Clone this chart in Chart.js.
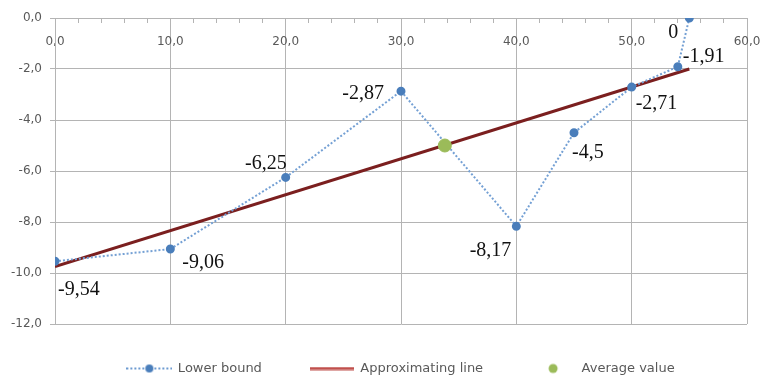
<!DOCTYPE html>
<html>
<head>
<meta charset="utf-8">
<script src="https://cdn.jsdelivr.net/npm/chart.js@4/dist/chart.umd.min.js"></script>
<style>
  html, body { margin: 0; padding: 0; background: #fff; }
  #wrap { width: 765px; height: 377px; }
</style>
</head>
<body>
<div id="wrap"><canvas id="chart"></canvas></div>
<script>
// Données
const LOWER_X = [0, 10, 20, 30, 40, 45, 50, 54, 55];
const LOWER_Y = [-9.54, -9.06, -6.25, -2.87, -8.17, -4.5, -2.71, -1.91, 0];
const LOWER_LABELS = ['-9,54', '-9,06', '-6,25', '-2,87', '-8,17', '-4,5', '-2,71', '-1,91', '0'];
const APPROX_X = [0, 55];
const APPROX_Y = [-9.75, -2.0];
const AVG_X = [33.8];
const AVG_Y = [-5.0];
const SERIES_NAMES = ['Lower bound', 'Approximating line', 'Average value'];
const X_MIN = 0, X_MAX = 60, X_STEP = 2, X_MAJOR = 10;
const Y_MIN = -12, Y_MAX = 0, Y_STEP = 2;

// placement des étiquettes (dx, dy, alignement) autour de chaque point
const LABEL_POS = [
  [3, 28, 'left'], [12, 14, 'left'], [1, -14, 'right'], [-17, 3, 'right'],
  [-5, 24, 'right'], [-2, 20, 'left'], [4, 17, 'left'], [5, -10, 'left'], [-11, 15, 'right'],
];

const GRID = '#b4b4b4';
const TICK_COLOR = '#595959';
const TICK_FONT = { family: 'DejaVu Sans', size: 12 };

const fmt = v => Number(v).toFixed(1).replace('.', ',');
const pts = (xs, ys) => xs.map((x, i) => ({ x, y: ys[i] }));

function legendIcon(kind) {
  const c = document.createElement('canvas');
  const g = c.getContext('2d');
  if (kind === 'lower') {
    c.width = 46; c.height = 10;
    g.strokeStyle = '#6d9bd1'; g.lineWidth = 2; g.setLineDash([2, 2]);
    g.beginPath(); g.moveTo(0, 5); g.lineTo(46, 5); g.stroke();
    g.fillStyle = '#4a7ebb';
    g.beginPath(); g.arc(23, 5, 4, 0, Math.PI * 2); g.fill();
  } else if (kind === 'approx') {
    c.width = 44; c.height = 4;
    g.strokeStyle = '#c0504d'; g.lineWidth = 3;
    g.beginPath(); g.moveTo(0, 2); g.lineTo(44, 2); g.stroke();
  } else {
    c.width = 12; c.height = 12;
    g.fillStyle = '#9bbb59';
    g.beginPath(); g.arc(6, 6, 4.5, 0, Math.PI * 2); g.fill();
  }
  return c;
}
const ICONS = [legendIcon('lower'), legendIcon('approx'), legendIcon('avg')];

const pointLabels = {
  id: 'pointLabels',
  afterDatasetsDraw(chart) {
    const meta = chart.getDatasetMeta(0);
    const ctx = chart.ctx;
    ctx.save();
    ctx.font = '20px "Liberation Serif", "Times New Roman", serif';
    ctx.fillStyle = '#111';
    ctx.textBaseline = 'middle';
    meta.data.forEach((el, i) => {
      const [dx, dy, align] = LABEL_POS[i];
      ctx.textAlign = align;
      ctx.fillText(LOWER_LABELS[i], el.x + dx, el.y + dy);
    });
    ctx.restore();
  },
};

new Chart(document.getElementById('chart'), {
  type: 'scatter',
  data: {
    datasets: [
      {
        label: SERIES_NAMES[0],
        data: pts(LOWER_X, LOWER_Y),
        showLine: true,
        borderColor: '#74a0d4',
        borderWidth: 2,
        borderDash: [2, 2],
        pointRadius: 3.5,
        pointBackgroundColor: '#4a7ebb',
        pointBorderColor: '#4a7ebb',
        order: 1,
      },
      {
        label: SERIES_NAMES[1],
        data: pts(APPROX_X, APPROX_Y),
        showLine: true,
        borderColor: '#7b1f1f',
        borderWidth: 3,
        pointRadius: 0,
        order: 2,
      },
      {
        label: SERIES_NAMES[2],
        data: pts(AVG_X, AVG_Y),
        pointRadius: 6.5,
        pointBackgroundColor: '#9bbb59',
        pointBorderColor: '#9bbb59',
        order: 0,
      },
    ],
  },
  options: {
    responsive: true,
    maintainAspectRatio: false,
    animation: false,
    layout: { padding: { top: 18, right: 18, bottom: -8, left: 0 } },
    plugins: {
      tooltip: { enabled: false },
      legend: {
        position: 'bottom',
        fullSize: false,
        title: { display: true, text: '', font: { size: 1, lineHeight: 1 }, padding: { top: -11, bottom: 0 } },
        labels: {
          usePointStyle: true,
          pointStyleWidth: 44,
          padding: 48,
          color: TICK_COLOR,
          font: { family: 'DejaVu Sans', size: 13 },
          generateLabels: chart => chart.data.datasets.map((ds, i) => ({
            text: ds.label,
            pointStyle: ICONS[i],
            datasetIndex: i,
            hidden: false,
            lineWidth: 0,
            fontColor: TICK_COLOR,
          })),
        },
      },
    },
    scales: {
      x: {
        type: 'linear',
        position: { y: 0 },
        min: X_MIN,
        max: X_MAX,
        ticks: {
          stepSize: X_STEP,
          autoSkip: false,
          maxRotation: 0,
          padding: 13,
          color: TICK_COLOR,
          font: TICK_FONT,
          callback: v => (v % X_MAJOR === 0 ? fmt(v) : ''),
        },
        grid: {
          color: c => (c.tick && c.tick.value % X_MAJOR === 0 ? GRID : 'rgba(0,0,0,0)'),
          tickColor: GRID,
          tickLength: 4,
        },
        border: { color: GRID },
        afterFit: s => { s.paddingLeft = 0; s.paddingRight = 0; },
      },
      y: {
        min: Y_MIN,
        max: Y_MAX,
        ticks: { stepSize: Y_STEP, padding: 8, color: TICK_COLOR, font: TICK_FONT, callback: fmt },
        grid: { color: GRID, tickLength: 5 },
        border: { color: GRID },
        afterFit: s => { s.width = 55; },
      },
    },
  },
  plugins: [pointLabels],
});
</script>
</body>
</html>
